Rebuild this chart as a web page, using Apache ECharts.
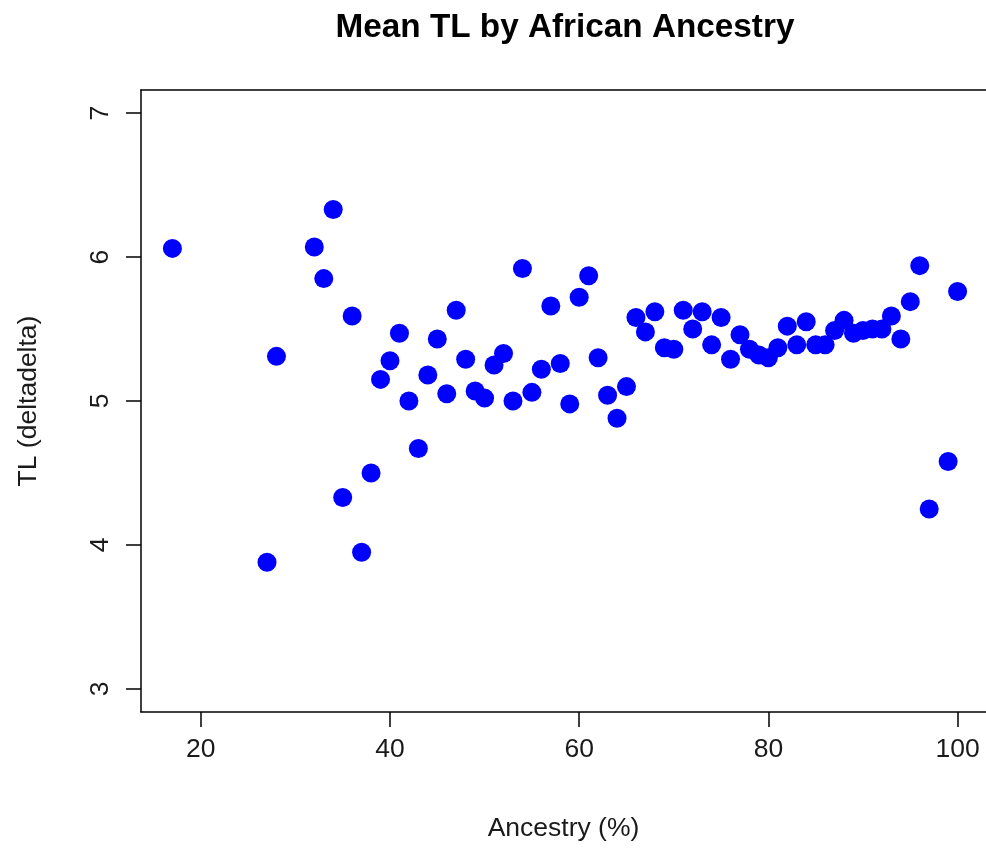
<!DOCTYPE html>
<html>
<head>
<meta charset="utf-8">
<title>Mean TL by African Ancestry</title>
<script src="https://cdn.jsdelivr.net/npm/echarts@6/dist/echarts.min.js"></script>
<style>
  html, body { margin: 0; padding: 0; background: #ffffff; }
  #chart { width: 986px; height: 850px; }
</style>
</head>
<body>
<div id="chart"></div>
<script>
// African ancestry (%) for each group
const ancestry = [
  17, 27, 28, 32, 33, 34, 35, 36, 37, 38,
  39, 40, 41, 42, 43, 44, 45, 46, 47, 48,
  49, 50, 51, 52, 53, 54, 55, 56, 57, 58,
  59, 60, 61, 62, 63, 64, 65, 66, 67, 68,
  69, 70, 71, 72, 73, 74, 75, 76, 77, 78,
  79, 80, 81, 82, 83, 84, 85, 86, 87, 88,
  89, 90, 91, 92, 93, 94, 95, 96, 97, 99, 100
];

// Mean telomere length (deltadelta) for each ancestry value
const meanTL = [
  6.06, 3.88, 5.31, 6.07, 5.85, 6.33, 4.33, 5.59, 3.95, 4.50,
  5.15, 5.28, 5.47, 5.00, 4.67, 5.18, 5.43, 5.05, 5.63, 5.29,
  5.07, 5.02, 5.25, 5.33, 5.00, 5.92, 5.06, 5.22, 5.66, 5.26,
  4.98, 5.72, 5.87, 5.30, 5.04, 4.88, 5.10, 5.58, 5.48, 5.62,
  5.37, 5.36, 5.63, 5.50, 5.62, 5.39, 5.58, 5.29, 5.46, 5.36,
  5.32, 5.30, 5.37, 5.52, 5.39, 5.55, 5.39, 5.39, 5.49, 5.56,
  5.47, 5.49, 5.50, 5.50, 5.59, 5.43, 5.69, 5.94, 4.25, 4.58, 5.76
];

// Tick labels
const xTicks = [20, 40, 60, 80, 100];
const yTicks = [3, 4, 5, 6, 7];

const points = ancestry.map((a, i) => [a, meanTL[i]]);

// Axis limits padded 4% beyond the data range, as base R plots do.
// The plot region runs past the right edge of the page, so the visible
// x range is trimmed to what fits inside the canvas.
const xMin = Math.min(...ancestry), xMax = Math.max(...ancestry);
const xPad = (xMax - xMin) * 0.04;
const xLo = xMin - xPad;
const xFullSpan = (xMax + xPad) - xLo;
const PLOT_LEFT = 141, FULL_WIDTH = 848, PAGE_WIDTH = 986;
const visibleWidth = PAGE_WIDTH - PLOT_LEFT;
const xHi = xLo + xFullSpan * visibleWidth / FULL_WIDTH;

const yLo = yTicks[0] - (yTicks[4] - yTicks[0]) * 0.04;
const yHi = yTicks[4] + (yTicks[4] - yTicks[0]) * 0.04;

const FONT = '"Liberation Sans", Arial, Helvetica, sans-serif';
const TEXT = '#1a1a1a';
const frameLine = { show: true, onZero: false, lineStyle: { color: '#000000', width: 1.5 } };

const chart = echarts.init(document.getElementById('chart'), null, { renderer: 'canvas' });

chart.setOption({
  backgroundColor: '#ffffff',
  animation: false,
  title: {
    text: 'Mean TL by African Ancestry',
    left: 560,
    textAlign: 'center',
    top: 6,
    textStyle: { fontFamily: FONT, fontSize: 33.3, fontWeight: 'bold', color: '#000000' }
  },
  grid: {
    left: PLOT_LEFT, top: 90, right: 0, height: 622,
    show: false
  },
  xAxis: [{
    type: 'value',
    position: 'bottom',
    min: xLo,
    max: xHi,
    name: 'Ancestry (%)',
    nameLocation: 'middle',
    nameGap: 103,
    nameTextStyle: { fontFamily: FONT, fontSize: 26.5, color: TEXT },
    axisLine: frameLine,
    splitLine: { show: false },
    axisTick: {
      show: true, inside: false, length: 15,
      customValues: xTicks,
      lineStyle: { color: '#000000', width: 1.5 }
    },
    axisLabel: {
      customValues: xTicks,
      margin: 24,
      fontFamily: FONT, fontSize: 26.5, color: TEXT
    }
  }, {
    // top edge of the plot frame
    type: 'value',
    position: 'top',
    min: xLo,
    max: xHi,
    axisLine: frameLine,
    axisTick: { show: false },
    axisLabel: { show: false },
    splitLine: { show: false }
  }],
  yAxis: {
    type: 'value',
    min: yLo,
    max: yHi,
    name: 'TL (deltadelta)',
    nameLocation: 'middle',
    nameRotate: 90,
    nameGap: 99,
    nameTextStyle: { fontFamily: FONT, fontSize: 26.5, color: TEXT },
    axisLine: frameLine,
    splitLine: { show: false },
    axisTick: {
      show: true, inside: false, length: 15,
      customValues: yTicks,
      lineStyle: { color: '#000000', width: 1.5 }
    },
    axisLabel: {
      customValues: yTicks,
      rotate: 90,
      margin: 27,
      fontFamily: FONT, fontSize: 26.5, color: TEXT
    }
  },
  series: [{
    type: 'scatter',
    xAxisIndex: 0,
    data: points,
    symbol: 'circle',
    symbolSize: 19,
    itemStyle: { color: '#0000ff', opacity: 1 },
    emphasis: { disabled: true }
  }]
});
</script>
</body>
</html>
